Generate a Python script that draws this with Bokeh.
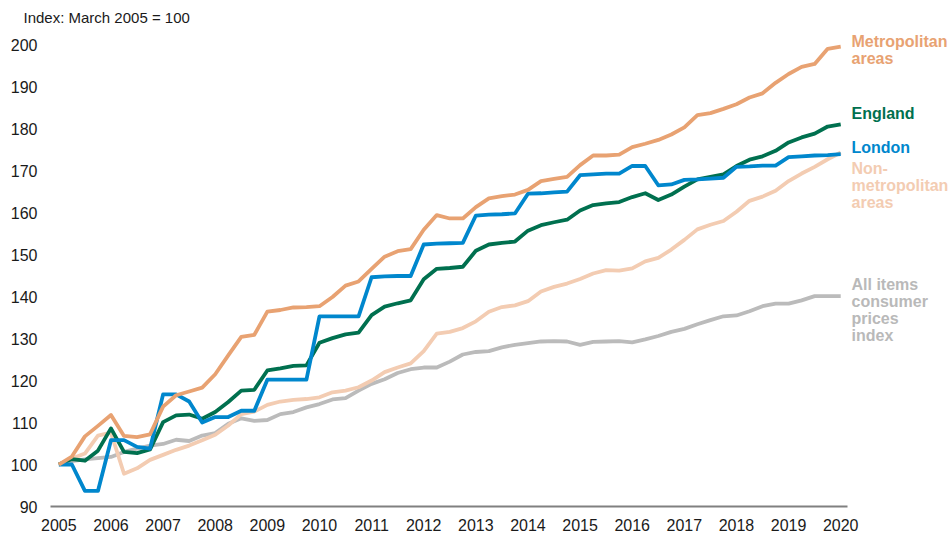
from bokeh.plotting import figure
from bokeh.models import FixedTicker, Range1d, Title
from bokeh.core.properties import value
from bokeh.embed import file_html
from bokeh.resources import INLINE

# ---- data (quarterly, 2005 Q1 .. 2020 Q1) ----
years = [2005 + 0.25 * i for i in range(61)]

metropolitan = [100, 101.9, 106.7, 109.2, 111.8, 106.8, 106.5, 107.2, 113.8, 116.5,
                117.4, 118.3, 121.5, 126.0, 130.4, 130.9, 136.4, 136.8, 137.4, 137.5,
                137.7, 139.9, 142.6, 143.6, 146.6, 149.5, 150.8, 151.3, 155.9, 159.4,
                158.6, 158.6, 161.3, 163.4, 163.9, 164.3, 165.4, 167.5, 168.0, 168.5,
                171.3, 173.6, 173.6, 173.8, 175.6, 176.4, 177.3, 178.6, 180.3, 183.2,
                183.7, 184.7, 185.8, 187.4, 188.4, 190.9, 193.0, 194.7, 195.4, 199.0,
                199.5]

england = [100, 101.3, 100.9, 103.3, 108.6, 103.0, 102.7, 103.6, 110.1, 111.7,
           111.9, 110.9, 112.5, 114.9, 117.6, 117.8, 122.4, 122.9, 123.5, 123.6,
           129.0, 130.1, 131.0, 131.4, 135.6, 137.6, 138.4, 139.1, 144.1, 146.6,
           146.8, 147.1, 150.9, 152.4, 152.8, 153.1, 155.7, 157.0, 157.7, 158.3,
           160.5, 161.8, 162.2, 162.5, 163.7, 164.6, 163.0, 164.3, 166.2, 167.9,
           168.5, 169.1, 171.1, 172.6, 173.4, 174.7, 176.7, 177.9, 178.8, 180.5,
           181.0]

london = [100, 100, 93.7, 93.7, 105.8, 105.8, 104.2, 103.8, 116.7, 116.7,
          115.0, 110.0, 111.3, 111.3, 112.8, 112.8, 120.2, 120.2, 120.2, 120.2,
          135.3, 135.3, 135.3, 135.3, 144.6, 144.8, 144.9, 144.9, 152.4, 152.6,
          152.7, 152.8, 159.3, 159.5, 159.6, 159.8, 164.5, 164.6, 164.8, 165.0,
          168.9, 169.1, 169.3, 169.3, 171.1, 171.1, 166.5, 166.7, 167.8, 167.9,
          168.1, 168.3, 170.9, 171.0, 171.2, 171.2, 173.2, 173.4, 173.6, 173.7,
          173.9]

non_metropolitan = [100, 101.4, 102.6, 106.9, 107.6, 97.8, 99.1, 101.1, 102.3, 103.5,
                    104.5, 105.8, 107.1, 109.3, 112.0, 112.6, 114.2, 115.0, 115.4, 115.6,
                    116.0, 117.2, 117.6, 118.4, 120.0, 122.0, 123.1, 124.1, 127.0, 131.2,
                    131.6, 132.5, 134.1, 136.4, 137.5, 137.9, 138.9, 141.2, 142.3, 143.1,
                    144.2, 145.5, 146.3, 146.2, 146.7, 148.4, 149.2, 151.2, 153.5, 156.0,
                    157.1, 158.0, 160.2, 162.8, 163.8, 165.2, 167.5, 169.3, 170.9, 172.7,
                    174.3]

cpi = [100, 100.8, 101.2, 101.5, 101.8, 103.0, 103.8, 104.5, 104.9, 105.9,
       105.6, 106.9, 107.5, 109.7, 111.0, 110.4, 110.6, 112.0, 112.5, 113.6,
       114.4, 115.5, 115.8, 117.6, 119.2, 120.3, 121.8, 122.7, 123.1, 123.1,
       124.5, 126.2, 126.8, 127.0, 127.9, 128.5, 128.9, 129.3, 129.4, 129.3,
       128.5, 129.2, 129.3, 129.4, 129.1, 129.8, 130.6, 131.6, 132.3, 133.4,
       134.4, 135.3, 135.5, 136.5, 137.7, 138.3, 138.3, 139.1, 140.1, 140.1,
       140.1]

x_ticks = list(range(2005, 2021))
y_ticks = list(range(90, 201, 10))

# ---- styling ----
FONT = "Liberation Sans"
C_METRO = "#E8A272"
C_ENG = "#00704F"
C_LON = "#0087CD"
C_NONMET = "#F3CCB2"
C_CPI = "#BBBBBB"

PX_PER_UNIT = 468 / 111.0          # vertical px per index point
PX_PER_YEAR = 797 / 15.29          # horizontal px per year
LEFT_PX, TOP_PX, BOTTOM_PX, W, H = 50, 25, 508, 949, 533
X0 = 2004.84
AXIS_END = 2020.13

x_rng = Range1d(X0, X0 + (W - LEFT_PX) / PX_PER_YEAR)
y_rng = Range1d(90, 90 + (BOTTOM_PX - TOP_PX) / PX_PER_UNIT)

p = figure(width=W, height=H, output_backend="svg", toolbar_location=None,
           x_range=x_rng, y_range=y_rng,
           min_border_left=LEFT_PX, min_border_right=0, min_border_top=TOP_PX,
           min_border_bottom=H - BOTTOM_PX)
p.outline_line_color = None
p.xgrid.visible = False
p.ygrid.visible = False
p.border_fill_color = "white"

p.add_layout(Title(text="Index: March 2005 = 100", align="left", offset=-27,
                   standoff=0, text_font=FONT, text_font_size="15px",
                   text_font_style="normal", text_color="#1a1a1a"), "above")

series = [(cpi, C_CPI), (non_metropolitan, C_NONMET), (england, C_ENG),
          (london, C_LON), (metropolitan, C_METRO)]
for vals, col in series:
    p.line(years, vals, line_color=col, line_width=3.8, line_join="round")

xa = p.xaxis[0]
xa.bounds = (X0, AXIS_END)
xa.ticker = FixedTicker(ticks=x_ticks)
xa.major_label_overrides = {t: str(t) for t in x_ticks}
xa.axis_line_color = "#808080"
xa.axis_line_width = 2
xa.major_tick_line_color = None
xa.minor_tick_line_color = None
xa.major_label_standoff = 6
xa.major_label_text_font = FONT
xa.major_label_text_font_size = "16px"
xa.major_label_text_color = "#1a1a1a"

ya = p.yaxis[0]
ya.ticker = FixedTicker(ticks=y_ticks)
ya.axis_line_color = None
ya.major_tick_line_color = None
ya.minor_tick_line_color = None
ya.major_label_standoff = 7
ya.major_label_text_font = FONT
ya.major_label_text_font_size = "16px"
ya.major_label_text_color = "#1a1a1a"

# ---- end labels ----
LABEL_X = X0 + (851 - LEFT_PX) / PX_PER_YEAR
end_labels = [
    (["Metropolitan", "areas"], 200.84, C_METRO),
    (["England"], 183.7, C_ENG),
    (["London"], 175.6, C_LON),
    (["Non-", "metropolitan", "areas"], 170.6, C_NONMET),
    (["All items", "consumer", "prices", "index"], 142.9, "#B9B9B9"),
]
LINE_STEP = 17.2 / PX_PER_UNIT
for lines, y0, col in end_labels:
    ys = [y0 - k * LINE_STEP for k in range(len(lines))]
    p.text(x=[LABEL_X] * len(lines), y=ys, text=lines, text_font=value(FONT),
           text_font_size="16px", text_font_style="bold", text_color=col,
           text_align="left", text_baseline="middle")

open("out.html", "w").write(file_html(p, INLINE))
